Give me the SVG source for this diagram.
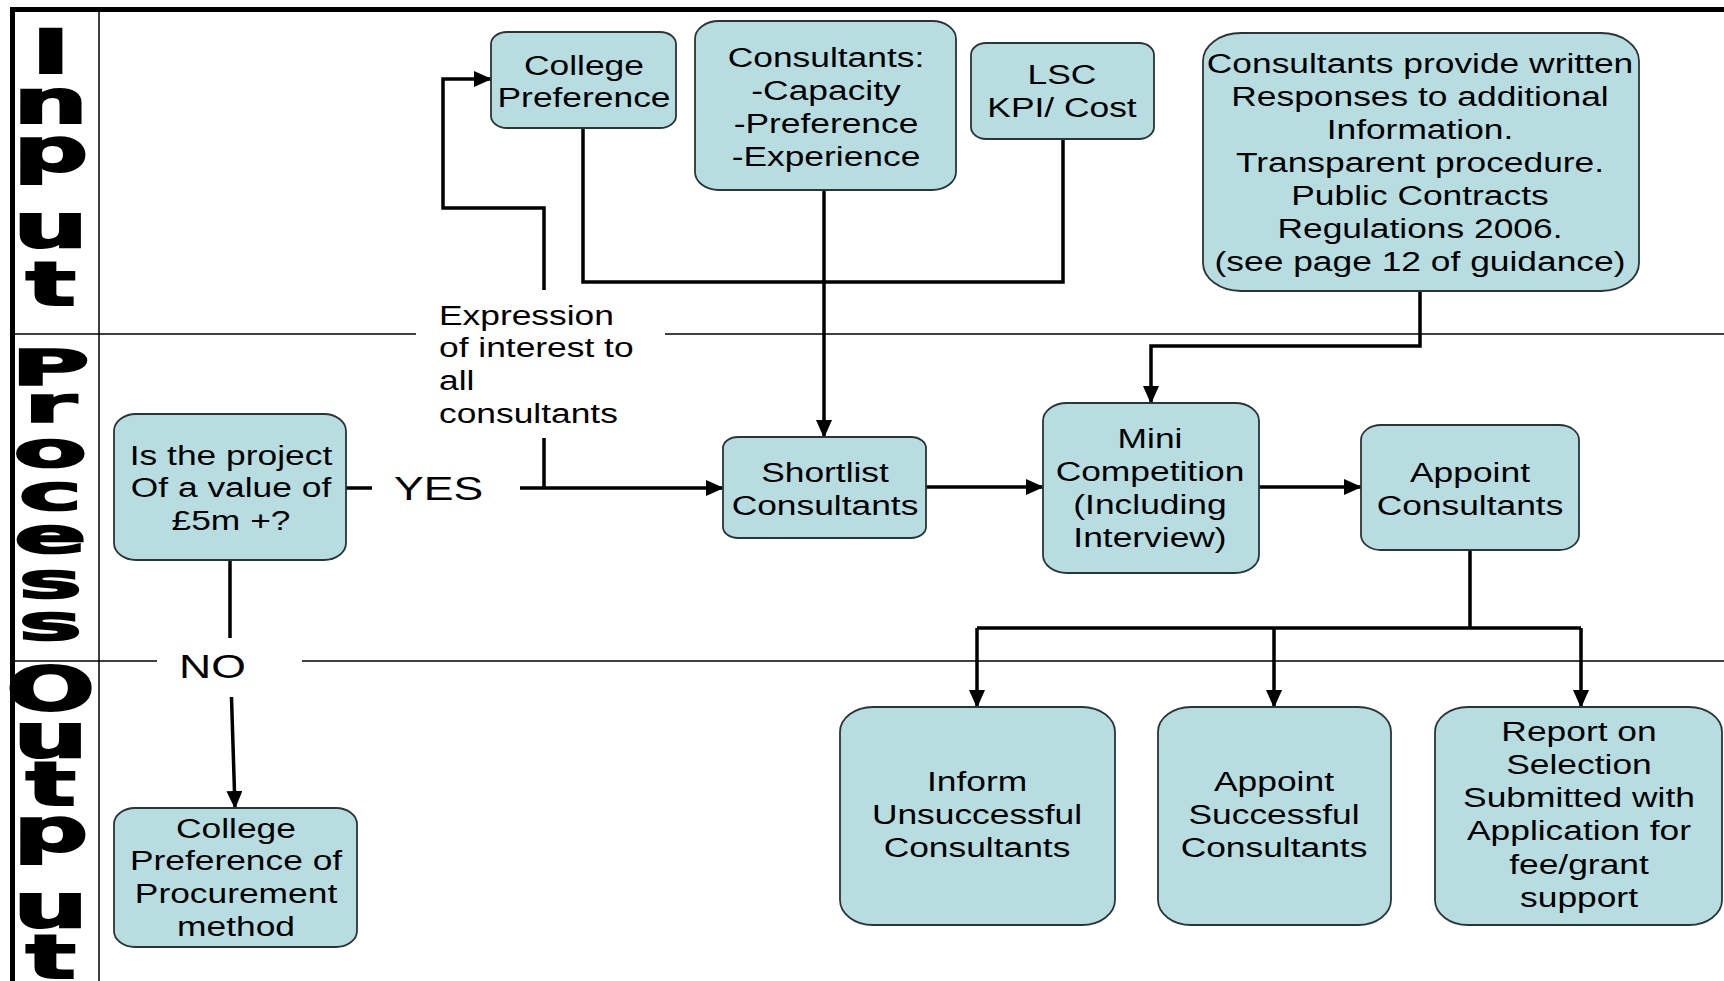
<svg xmlns="http://www.w3.org/2000/svg" width="1724" height="981" viewBox="0 0 1724 981">
<style>
.box{fill:#b8dde0;stroke:#2b3535;stroke-width:1.8}
.t{font-family:"Liberation Sans",Arial,sans-serif;font-size:27px;fill:#000;text-anchor:middle}
.tl{font-family:"Liberation Sans",Arial,sans-serif;font-size:27px;fill:#000}
.big{font-family:"Liberation Sans",Arial,sans-serif;font-size:34px;fill:#000}
.side{font-family:"DejaVu Sans",sans-serif;font-weight:bold;font-size:60px;fill:#000;stroke:#000;stroke-width:2;text-anchor:middle}
.lane{stroke:#000;stroke-width:1.5;fill:none}
.frame{stroke:#000;stroke-width:5;fill:none}
.c{stroke:#000;stroke-width:3.5;fill:none}
.ca{stroke:#000;stroke-width:3.5;fill:none;marker-end:url(#ah)}
.bg{fill:#fff}
</style>
<defs>
<marker id="ah" markerUnits="userSpaceOnUse" markerWidth="18" markerHeight="16" refX="17" refY="8" orient="auto">
<path d="M0,0 L18,8 L0,16 z" fill="#000"/>
</marker>
</defs>
<rect x="0" y="0" width="1724" height="981" fill="#fff"/>

<g id="lanes">
<line class="frame" x1="10" y1="9.5" x2="1724" y2="9.5"/>
<line class="frame" x1="12.5" y1="7" x2="12.5" y2="981"/>
<line class="lane" x1="99" y1="10" x2="99" y2="981"/>
<line class="lane" x1="13" y1="334" x2="1724" y2="334"/>
<line class="lane" x1="13" y1="661" x2="1724" y2="661"/>
<text class="side" transform="matrix(1.75 0 0 1 0 0)"><tspan x="29" y="73">I</tspan><tspan x="29" y="123">n</tspan><tspan x="29" y="171">p</tspan><tspan x="29" y="247">u</tspan><tspan x="29" y="305">t</tspan></text>
<text class="side" transform="matrix(1.8 0 0 0.82 0 0)"><tspan x="28" y="469.5">P</tspan><tspan x="28" y="514.6">r</tspan><tspan x="28" y="569.5">o</tspan><tspan x="28" y="622">c</tspan><tspan x="28" y="674.4">e</tspan><tspan x="28" y="729.3">s</tspan><tspan x="28" y="780.5">s</tspan></text>
<text class="side" transform="matrix(1.75 0 0 1 0 0)"><tspan x="29" y="710">O</tspan><tspan x="29" y="757">u</tspan><tspan x="29" y="805">t</tspan><tspan x="29" y="851">p</tspan><tspan x="29" y="927">u</tspan><tspan x="29" y="978">t</tspan></text>
</g>

<g id="connectors">
<path class="ca" d="M544,488 V208 H443 V79 H491"/>
<path class="ca" d="M346,488 H723"/>
<path class="c" d="M583,128 V282 H1063 V139"/>
<path class="ca" d="M824,190 V437"/>
<path class="ca" d="M1420,291 V346 H1151 V403"/>
<path class="ca" d="M926,487 H1043"/>
<path class="ca" d="M1259,487 H1361"/>
<path class="c" d="M1470,550 V628"/>
<path class="c" d="M977,628 H1581"/>
<path class="ca" d="M977,628 V707"/>
<path class="ca" d="M1274,628 V707"/>
<path class="ca" d="M1581,628 V707"/>
<path class="ca" d="M230,560 V650 L235,808"/>
</g>

<g id="label-expression">
<rect class="bg" x="416" y="290" width="249" height="148"/>
<text class="tl" transform="matrix(1.31 0 0 1 439 0)"><tspan x="0" y="325">Expression</tspan><tspan x="0" y="357">of interest to</tspan><tspan x="0" y="390">all</tspan><tspan x="0" y="423">consultants</tspan></text>
</g>
<g id="label-yes">
<rect class="bg" x="372" y="468" width="148" height="40"/>
<text class="big" transform="matrix(1.31 0 0 1 394 0)"><tspan x="0" y="500">YES</tspan></text>
</g>
<g id="label-no">
<rect class="bg" x="157" y="638" width="145" height="59"/>
<text class="big" transform="matrix(1.31 0 0 1 179 0)"><tspan x="0" y="678">NO</tspan></text>
</g>

<g id="n-college-pref">
<rect class="box" x="491" y="32" width="185" height="96" rx="16" ry="12"/>
<text class="t" transform="matrix(1.31 0 0 1 584 0)"><tspan x="0" y="75">College</tspan><tspan x="0" y="107">Preference</tspan></text>
</g>
<g id="n-consultants">
<rect class="box" x="695" y="21" width="261" height="169" rx="24" ry="18"/>
<text class="t" transform="matrix(1.31 0 0 1 826 0)"><tspan x="0" y="67">Consultants:</tspan><tspan x="0" y="100">-Capacity</tspan><tspan x="0" y="133">-Preference</tspan><tspan x="0" y="166">-Experience</tspan></text>
</g>
<g id="n-lsc">
<rect class="box" x="971" y="43" width="183" height="96" rx="15" ry="12"/>
<text class="t" transform="matrix(1.31 0 0 1 1062 0)"><tspan x="0" y="84">LSC</tspan><tspan x="0" y="117">KPI/ Cost</tspan></text>
</g>
<g id="n-written">
<rect class="box" x="1203" y="33" width="436" height="258" rx="38" ry="28"/>
<text class="t" transform="matrix(1.31 0 0 1 1420 0)"><tspan x="0" y="73">Consultants provide written</tspan><tspan x="0" y="106">Responses to additional</tspan><tspan x="0" y="139">Information.</tspan><tspan x="0" y="172">Transparent procedure.</tspan><tspan x="0" y="205">Public Contracts</tspan><tspan x="0" y="238">Regulations 2006.</tspan><tspan x="0" y="271">(see page 12 of guidance)</tspan></text>
</g>
<g id="n-project">
<rect class="box" x="114" y="414" width="232" height="146" rx="22" ry="17"/>
<text class="t" transform="matrix(1.31 0 0 1 231 0)"><tspan x="0" y="465">Is the project</tspan><tspan x="0" y="497">Of a value of</tspan><tspan x="0" y="530">£5m +?</tspan></text>
</g>
<g id="n-shortlist">
<rect class="box" x="723" y="437" width="203" height="101" rx="15" ry="11"/>
<text class="t" transform="matrix(1.31 0 0 1 825 0)"><tspan x="0" y="482">Shortlist</tspan><tspan x="0" y="515">Consultants</tspan></text>
</g>
<g id="n-mini">
<rect class="box" x="1043" y="403" width="216" height="170" rx="24" ry="18"/>
<text class="t" transform="matrix(1.31 0 0 1 1150 0)"><tspan x="0" y="448">Mini</tspan><tspan x="0" y="481">Competition</tspan><tspan x="0" y="514">(Including</tspan><tspan x="0" y="547">Interview)</tspan></text>
</g>
<g id="n-appoint">
<rect class="box" x="1361" y="425" width="218" height="125" rx="20" ry="15"/>
<text class="t" transform="matrix(1.31 0 0 1 1470 0)"><tspan x="0" y="482">Appoint</tspan><tspan x="0" y="515">Consultants</tspan></text>
</g>
<g id="n-college-proc">
<rect class="box" x="114" y="808" width="243" height="139" rx="21" ry="16"/>
<text class="t" transform="matrix(1.31 0 0 1 236 0)"><tspan x="0" y="838">College</tspan><tspan x="0" y="870">Preference of</tspan><tspan x="0" y="903">Procurement</tspan><tspan x="0" y="936">method</tspan></text>
</g>
<g id="n-inform">
<rect class="box" x="840" y="707" width="275" height="218" rx="33" ry="25"/>
<text class="t" transform="matrix(1.31 0 0 1 977 0)"><tspan x="0" y="791">Inform</tspan><tspan x="0" y="824">Unsuccessful</tspan><tspan x="0" y="857">Consultants</tspan></text>
</g>
<g id="n-appoint-successful">
<rect class="box" x="1158" y="707" width="233" height="218" rx="33" ry="25"/>
<text class="t" transform="matrix(1.31 0 0 1 1274 0)"><tspan x="0" y="791">Appoint</tspan><tspan x="0" y="824">Successful</tspan><tspan x="0" y="857">Consultants</tspan></text>
</g>
<g id="n-report">
<rect class="box" x="1435" y="707" width="287" height="218" rx="33" ry="25"/>
<text class="t" transform="matrix(1.31 0 0 1 1579 0)"><tspan x="0" y="741">Report on</tspan><tspan x="0" y="774">Selection</tspan><tspan x="0" y="807">Submitted with</tspan><tspan x="0" y="840">Application for</tspan><tspan x="0" y="874">fee/grant</tspan><tspan x="0" y="907">support</tspan></text>
</g>
</svg>
